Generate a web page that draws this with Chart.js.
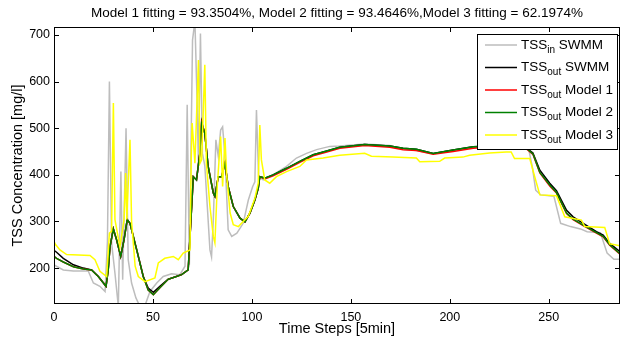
<!DOCTYPE html>
<html>
<head>
<meta charset="utf-8">
<title>TSS fitting</title>
<script src="https://cdn.jsdelivr.net/npm/chart.js@4.4.1/dist/chart.umd.min.js"></script>
<style>
  html, body { margin: 0; padding: 0; background: #fff; }
  canvas { display: block; }
</style>
</head>
<body>
<canvas id="tss" width="622" height="344"></canvas>
<script>
/* TSS in/out SWMM vs. model fits */
(function () {
  "use strict";

  var FONT = "'Liberation Sans', Arial, Helvetica, sans-serif";
  var TITLE = "Model 1 fitting = 93.3504%, Model 2 fitting = 93.4646%,Model 3 fitting = 62.1974%";
  var X_TICKS = [0, 50, 100, 150, 200, 250];
  var Y_TICKS = [200, 300, 400, 500, 600, 700];

  // TSS_in SWMM (grey)
  var inX = [0, 4.7, 9.8, 17.3, 19.9, 23.2, 25.8, 27, 28, 29.1, 30.8, 32.5, 33.8, 34.7, 36.4, 37.5, 39.2, 41.4, 43.4, 46,
    48.5, 51.9, 55.2, 59.4, 63.6, 66.2, 67.3, 68.4, 70, 71.2, 72.3, 73, 74, 75, 76.2, 77.5, 78.8, 79.6, 80.5, 81.8,
    83, 84.2, 85.2, 86.4, 88, 89.8, 92.4, 95.6, 98.2, 100.4, 101.5, 102.3, 103.4, 105.7, 110.7, 117.5, 122.5, 127.6, 132.7, 139.4,
    144.4, 157, 169.7, 176.4, 183.1, 191.6, 201.7, 211.8, 222, 232, 238, 240, 241.7, 243.4, 245.9, 252.6, 256, 261, 266, 269.4,
    276.1, 279.5, 282.9, 286];
  var inY = [207, 196, 194, 194, 168, 161, 150, 257, 600, 254, 189, 118, 407, 175, 500, 218, 168, 136, 118, 120,
    150, 168, 182, 188, 186, 204, 550, 207, 689, 730, 560, 420, 703, 446, 420, 330, 239, 224, 304, 475,
    440, 496, 503, 440, 282, 268, 275, 296, 346, 375, 385, 539, 396, 389, 400, 418, 436, 446, 454, 461,
    462, 466, 463, 455, 452, 445, 453, 460, 462, 463, 460, 452, 417, 367, 357, 354, 296, 289, 284, 278,
    276, 232, 219, 219];

  // TSS_out SWMM, Model 1, Model 2 share the same time steps
  var outX = [0, 1.3, 4.7, 9.8, 14.8, 19, 22.4, 26.3, 27.4, 28.3, 30, 31.6, 33.7, 35.4, 37, 38.4, 41.8, 45.1, 47.6, 50.2,
    53.5, 57.7, 61.1, 64.5, 67.8, 70.4, 72, 73.7, 74.6, 76.2, 77.9, 80.5, 81.3, 83, 84.7, 86.4, 88, 90.6, 94, 96.5,
    99, 101.5, 103.2, 104, 106.5, 110.7, 117.5, 124.2, 131, 137.8, 144.4, 157, 169.7, 176.4, 183.1, 191.6, 201.7, 211.8, 222, 232,
    238, 242, 245.5, 250.5, 253.9, 259, 262.3, 267.4, 274.1, 277.5, 280.8, 286];
  var outY = [238, 234, 221, 207, 200, 196, 182, 161, 196, 246, 284, 261, 225, 261, 304, 296, 239, 182, 157, 148,
    161, 176, 181, 186, 196, 396, 389, 446, 514, 489, 418, 361, 354, 396, 396, 425, 375, 332, 307, 299,
    318, 346, 371, 396, 393, 400, 414, 429, 443, 451, 459, 465, 462, 457, 455, 446, 453, 460, 462, 463,
    460, 447, 410, 382, 366, 324, 310, 296, 278, 271, 253, 235];
  var model1Y = [225, 221, 213, 203, 198, 196, 182, 161, 196, 246, 284, 261, 225, 261, 304, 296, 239, 182, 153, 143,
    158, 176, 181, 186, 196, 396, 389, 446, 512, 489, 418, 361, 354, 396, 396, 425, 375, 332, 307, 299,
    318, 346, 371, 396, 391, 398, 412, 427, 441, 449, 457, 463, 459, 454, 452, 444, 450, 457, 460, 461,
    458, 444, 404, 376, 361, 317, 304, 291, 275, 267, 249, 230];
  var model2Y = [225, 221, 213, 203, 198, 196, 182, 161, 196, 246, 284, 261, 225, 261, 304, 296, 239, 182, 153, 143,
    158, 176, 181, 186, 196, 396, 389, 446, 510, 489, 418, 361, 354, 396, 396, 425, 375, 332, 307, 299,
    318, 346, 371, 396, 393, 400, 414, 429, 443, 451, 459, 465, 462, 457, 455, 446, 453, 460, 462, 463,
    460, 445, 405, 378, 362, 318, 305, 292, 276, 268, 250, 231];

  // Model 3 (yellow)
  var model3X = [0, 0.5, 3, 6.4, 18.2, 20.7, 23.2, 26.6, 28, 29.1, 30, 30.8, 33.3, 35.4, 36.2, 36.8, 38.4, 39.2, 41, 42.6,
    46, 51, 52.7, 56, 60.3, 62.8, 65.3, 68.7, 69.4, 69.8, 71.2, 73, 73.8, 74.6, 76.2, 77, 78.8, 80.5, 81.3, 82.5,
    84.2, 85.2, 86.4, 87.3, 89, 90.6, 93.2, 95.6, 98.2, 101.5, 103.2, 104, 104.8, 106.5, 109, 112.4, 117.5, 124.2, 127.6, 136,
    144.4, 157, 160.4, 171.3, 183.1, 184.8, 194.9, 197.4, 206.6, 210, 220.1, 228.5, 231, 232.7, 240.4, 242.9, 245.5, 253.9, 258.1, 266.5,
    268.2, 278.3, 280.8, 286];
  var model3Y = [255, 252, 239, 229, 227, 218, 193, 182, 275, 279, 554, 304, 246, 304, 404, 304, 475, 300, 204, 182,
    171, 179, 211, 221, 225, 218, 232, 239, 446, 511, 425, 646, 425, 432, 636, 425, 332, 268, 254, 375,
    482, 375, 479, 396, 318, 293, 289, 300, 311, 350, 382, 507, 432, 389, 382, 396, 407, 418, 432, 436,
    442, 446, 440, 438, 436, 428, 429, 436, 438, 442, 447, 449, 449, 435, 435, 396, 357, 355, 310, 303,
    289, 287, 252, 248];

  var SERIES = [
    { sub: "in", label: "SWMM", color: "#bdbdbd", xs: inX, ys: inY, order: 5 },
    { sub: "out", label: "SWMM", color: "#000000", xs: outX, ys: outY, order: 4 },
    { sub: "out", label: "Model 1", color: "#ff0000", xs: outX, ys: model1Y, order: 3 },
    { sub: "out", label: "Model 2", color: "#008000", xs: outX, ys: model2Y, order: 2 },
    { sub: "out", label: "Model 3", color: "#ffff00", xs: model3X, ys: model3Y, order: 1 }
  ];

  function points(xs, ys) {
    return xs.map(function (x, i) { return { x: x, y: ys[i] }; });
  }

  function drawLegend(ctx, area) {
    var left = area.right - 143;
    var top = area.top + 7;
    ctx.fillStyle = "#fff";
    ctx.fillRect(left, top, 141, 116);
    ctx.strokeStyle = "#000";
    ctx.lineWidth = 1;
    ctx.strokeRect(left + 0.5, top + 0.5, 140, 115);
    ctx.textBaseline = "middle";
    ctx.textAlign = "left";
    SERIES.forEach(function (s, i) {
      var y = top + 11 + i * 22.5;
      ctx.strokeStyle = s.color;
      ctx.lineWidth = 1.5;
      ctx.beginPath();
      ctx.moveTo(left + 8, y);
      ctx.lineTo(left + 40, y);
      ctx.stroke();
      ctx.fillStyle = "#000";
      var x = left + 44;
      ctx.font = "13.5px " + FONT;
      ctx.fillText("TSS", x, y);
      x += ctx.measureText("TSS").width;
      ctx.font = "10px " + FONT;
      ctx.fillText(s.sub, x, y + 5);
      x += ctx.measureText(s.sub).width;
      ctx.font = "13.5px " + FONT;
      ctx.fillText(" " + s.label, x, y);
    });
  }

  var framePlugin = {
    id: "frame",
    afterDraw: function (chart) {
      var ctx = chart.ctx;
      var a = chart.chartArea;
      var xs = chart.scales.x;
      var ys = chart.scales.y;
      ctx.save();
      ctx.strokeStyle = "#000";
      ctx.lineWidth = 1;
      ctx.beginPath();
      X_TICKS.forEach(function (v) {
        var px = Math.round(xs.getPixelForValue(v)) + 0.5;
        ctx.moveTo(px, a.bottom); ctx.lineTo(px, a.bottom - 5);
        ctx.moveTo(px, a.top); ctx.lineTo(px, a.top + 5);
      });
      Y_TICKS.forEach(function (v) {
        var py = Math.round(ys.getPixelForValue(v)) + 0.5;
        ctx.moveTo(a.left, py); ctx.lineTo(a.left + 5, py);
        ctx.moveTo(a.right, py); ctx.lineTo(a.right - 5, py);
      });
      ctx.stroke();
      ctx.strokeRect(a.left + 0.5, a.top + 0.5, a.right - a.left - 1, a.bottom - a.top - 1);

      ctx.fillStyle = "#000";
      ctx.font = "13.5px " + FONT;
      ctx.textAlign = "center";
      ctx.textBaseline = "middle";
      ctx.fillText(TITLE, (a.left + a.right) / 2, 13);

      drawLegend(ctx, a);
      ctx.restore();
    }
  };

  new Chart(document.getElementById("tss"), {
    type: "line",
    data: {
      datasets: SERIES.map(function (s) {
        return {
          label: "TSS" + s.sub + " " + s.label,
          data: points(s.xs, s.ys),
          borderColor: s.color,
          backgroundColor: s.color,
          borderWidth: 1.5,
          pointRadius: 0,
          tension: 0,
          fill: false,
          order: s.order
        };
      })
    },
    options: {
      responsive: false,
      animation: false,
      devicePixelRatio: 1,
      layout: { padding: { left: 0, right: 2, top: 27, bottom: 0 } },
      plugins: {
        legend: { display: false },
        tooltip: { enabled: false },
        title: { display: false }
      },
      scales: {
        x: {
          type: "linear",
          min: 0,
          max: 286,
          grid: { display: false, drawTicks: false },
          border: { display: false },
          ticks: { color: "#000", padding: 6, maxRotation: 0, font: { family: FONT, size: 12.5 } },
          afterBuildTicks: function (axis) { axis.ticks = X_TICKS.map(function (v) { return { value: v }; }); },
          afterFit: function (axis) { axis.height = 40; },
          title: { display: true, text: "Time Steps [5min]", color: "#000", font: { family: FONT, size: 14.5 }, padding: { top: 0, bottom: 6 } }
        },
        y: {
          type: "linear",
          min: 123,
          max: 717,
          grid: { display: false, drawTicks: false },
          border: { display: false },
          ticks: { color: "#000", padding: 4, font: { family: FONT, size: 12.5 } },
          afterBuildTicks: function (axis) { axis.ticks = Y_TICKS.map(function (v) { return { value: v }; }); },
          afterFit: function (axis) { axis.width = 54; },
          title: { display: true, text: "TSS Concentration [mg/l]", color: "#000", font: { family: FONT, size: 14.5 }, padding: { top: 9, bottom: 0 } }
        }
      }
    },
    plugins: [framePlugin]
  });
})();
</script>
</body>
</html>
